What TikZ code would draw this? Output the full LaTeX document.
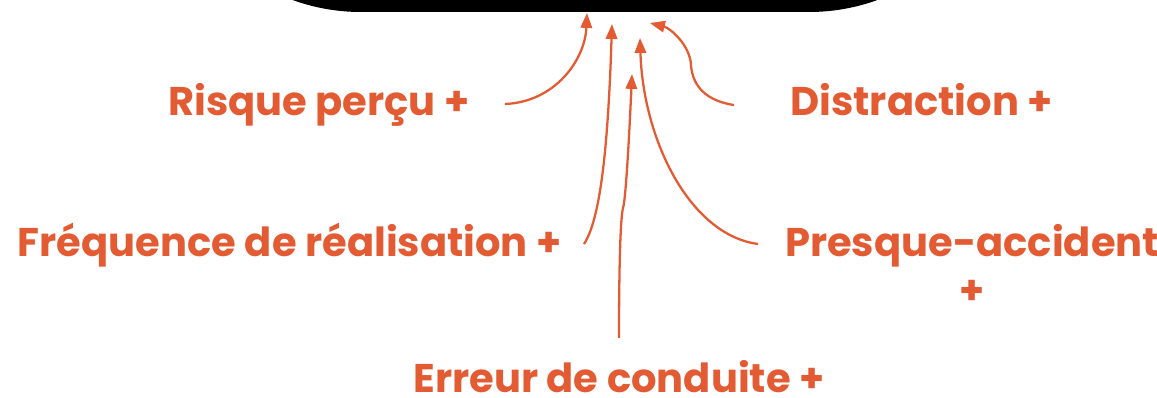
\documentclass[tikz,border=0pt]{standalone}
\usepackage{fontspec}
\setmainfont{Poppins}
\usetikzlibrary{arrows.meta}
\definecolor{rouille}{HTML}{E35B33}
\begin{document}
\begin{tikzpicture}[x=0.02cm, y=-0.02cm,
        every node/.style={text=rouille, font=\fontsize{22.8}{26}\selectfont\bfseries, inner sep=0pt},
        fleche/.style={draw=rouille, line width=1.3pt, -{Triangle[length=8.5pt, width=6.5pt]}}]
    \useasboundingbox (0,0) rectangle (1157,398);
    \clip (0,0) rectangle (1157,398);
    % la boite noire, coupee en haut
    \fill[black, rounded corners=4cm] (161,-300) rectangle (1009,12);
    % les facteurs
    \node[anchor=base east] (risque) at (470,116) {Risque perçu +};
    \node[anchor=base west] (distraction) at (790,116) {Distraction +};
    \node[anchor=base east] (frequence) at (562,257) {Fréquence de réalisation +};
    \node[anchor=base] (presque) at (972,257) {Presque-accident};
    \node[anchor=base] (plus) at (972,305) {+};
    \node[anchor=base] (erreur) at (619,393) {Erreur de conduite +};
    % points de depart et d'arrivee des fleches
    \coordinate (r0) at (505,104);
    \coordinate (r1) at (587,13);
    \coordinate (f0) at (584,244);
    \coordinate (f1) at (612,24);
    \coordinate (e0) at (619,338);
    \coordinate (e1) at (623,208);
    \coordinate (e2) at (632,74);
    \coordinate (p0) at (758,244);
    \coordinate (p1) at (640,38);
    \coordinate (d0) at (734,105);
    \coordinate (d1) at (691,65);
    \coordinate (d2) at (650,23);
    \draw[fleche] (r0) .. controls (555,102) and (585,60) .. (r1);
    \draw[fleche] (f0) .. controls (600,220) and (608,150) .. (f1);
    \draw[fleche] (e0) .. controls (619,280) and (620,220) .. (e1) .. controls (626,200) and (630,120) .. (e2);
    \draw[fleche] (p0) .. controls (690,235) and (643,140) .. (p1);
    \draw[fleche] (d0) .. controls (700,100) and (692,80) .. (d1) .. controls (690,45) and (670,28) .. (d2);
\end{tikzpicture}
\end{document}
